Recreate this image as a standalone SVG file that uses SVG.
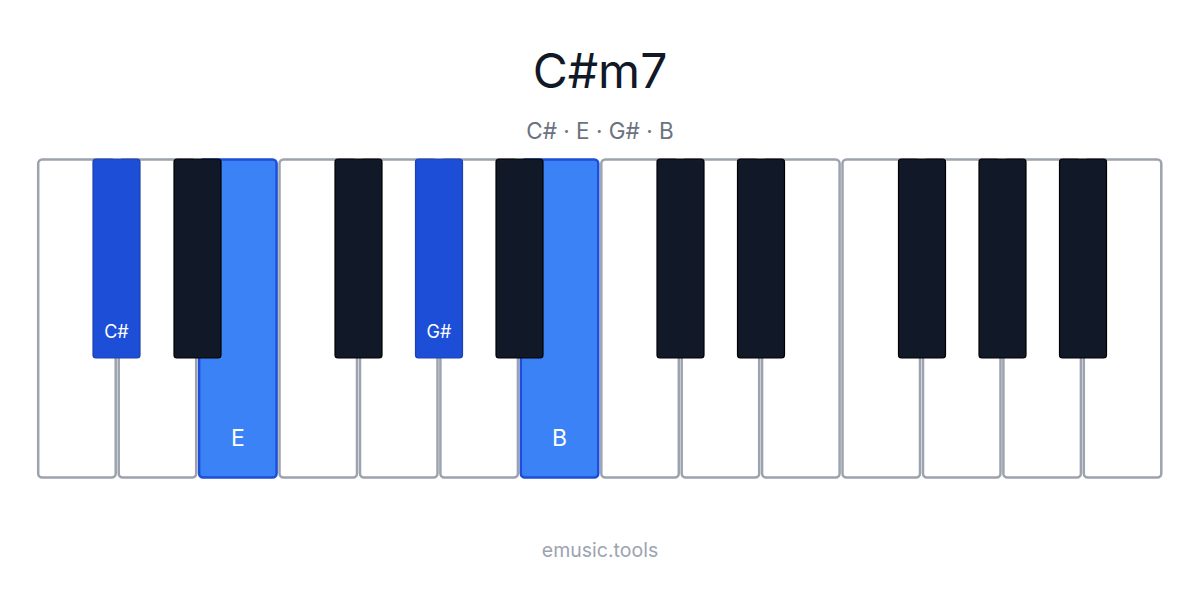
<svg xmlns="http://www.w3.org/2000/svg" width="1200" height="600" viewBox="0 0 1200 600">
<style>
text{font-family:Inter,"Liberation Sans",sans-serif}
.w{fill:#fff;stroke:#9ca3af;stroke-width:2.5}
.wh{fill:#3b82f6;stroke:#1d4ed8;stroke-width:2.5}
.b{fill:#111827;stroke:#000;stroke-width:1.2}
.bh{fill:#1d4ed8;stroke:#1e40af;stroke-width:1.2}
.lw{fill:#fff;font-size:23px;text-anchor:middle}
.lb{fill:#fff;font-size:18px;text-anchor:middle}
</style>
<rect width="1200" height="600" fill="#fff"/>
<text x="600" y="88" font-size="48" fill="#111827" text-anchor="middle">C#m7</text>
<text x="600" y="139" font-size="22.5" fill="#6b7280" text-anchor="middle">C# · E · G# · B</text>
<g id="white-keys">
<rect id="k-c1" class="w" x="38.2" y="159.5" width="77.5" height="318" rx="4"/>
<rect id="k-d1" class="w" x="118.7" y="159.5" width="77.5" height="318" rx="4"/>
<rect id="k-e1" class="wh" x="199.1" y="159.5" width="77.5" height="318" rx="4"/>
<rect id="k-f1" class="w" x="279.5" y="159.5" width="77.5" height="318" rx="4"/>
<rect id="k-g1" class="w" x="360" y="159.5" width="77.5" height="318" rx="4"/>
<rect id="k-a1" class="w" x="440.4" y="159.5" width="77.5" height="318" rx="4"/>
<rect id="k-b1" class="wh" x="520.8" y="159.5" width="77.5" height="318" rx="4"/>
<rect id="k-c2" class="w" x="601.3" y="159.5" width="77.5" height="318" rx="4"/>
<rect id="k-d2" class="w" x="681.7" y="159.5" width="77.5" height="318" rx="4"/>
<rect id="k-e2" class="w" x="762.1" y="159.5" width="77.5" height="318" rx="4"/>
<rect id="k-f2" class="w" x="842.5" y="159.5" width="77.5" height="318" rx="4"/>
<rect id="k-g2" class="w" x="923" y="159.5" width="77.5" height="318" rx="4"/>
<rect id="k-a2" class="w" x="1003.4" y="159.5" width="77.5" height="318" rx="4"/>
<rect id="k-b2" class="w" x="1083.8" y="159.5" width="77.5" height="318" rx="4"/>
<text class="lw" x="237.8" y="446">E</text>
<text class="lw" x="559.5" y="446">B</text>
</g>
<g id="black-keys">
<rect id="k-cs1" class="bh" x="93" y="159" width="47" height="199" rx="3"/>
<rect id="k-ds1" class="b" x="174" y="159" width="47" height="199" rx="3"/>
<rect id="k-fs1" class="b" x="335" y="159" width="47" height="199" rx="3"/>
<rect id="k-gs1" class="bh" x="415.5" y="159" width="47" height="199" rx="3"/>
<rect id="k-as1" class="b" x="496" y="159" width="47" height="199" rx="3"/>
<rect id="k-cs2" class="b" x="657" y="159" width="47" height="199" rx="3"/>
<rect id="k-ds2" class="b" x="737.5" y="159" width="47" height="199" rx="3"/>
<rect id="k-fs2" class="b" x="898.5" y="159" width="47" height="199" rx="3"/>
<rect id="k-gs2" class="b" x="979" y="159" width="47" height="199" rx="3"/>
<rect id="k-as2" class="b" x="1059.5" y="159" width="47" height="199" rx="3"/>
<text class="lb" x="116.5" y="338">C#</text>
<text class="lb" x="439" y="338">G#</text>
</g>
<g id="connectors"/>
<text x="600" y="557" font-size="19.5" fill="#9ca3af" text-anchor="middle">emusic.tools</text>
</svg>
